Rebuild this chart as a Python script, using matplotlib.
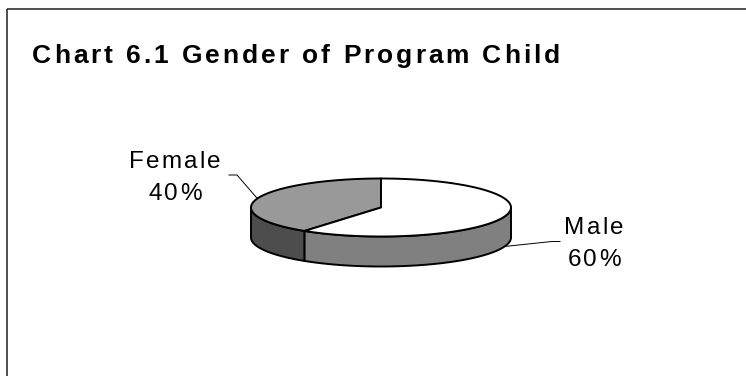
import numpy as np
import matplotlib
matplotlib.use('Agg')
import matplotlib.pyplot as plt
from matplotlib.patches import Polygon, Rectangle
from matplotlib.font_manager import FontProperties, findfont, get_font
from matplotlib.ft2font import LoadFlags

title = 'Chart 6.1 Gender of Program Child'
labels = ['Female', 'Male']
shares = [40, 60]
top_colors = ['#999999', '#ffffff']
side_colors = ['#4d4d4d', '#808080']

W, H, DPI = 746, 376, 100

fig = plt.figure(figsize=(W / DPI, H / DPI), dpi=DPI)
ax = fig.add_axes([0, 0, 1, 1])
# pixel coordinates, y running downwards
ax.set_xlim(0, W)
ax.set_ylim(H, 0)
ax.axis('off')


def spaced_text(x, y, s, size, gap=None, width=None, weight='normal', ha='left'):
	# draw a string with extra tracking between the letters
	prop = FontProperties(family='Liberation Sans', weight=weight, size=size)
	font = get_font(findfont(prop))
	font.set_size(size, DPI)
	adv = [font.load_char(ord(c), flags=LoadFlags.NO_HINTING).linearHoriAdvance / 65536 for c in s]
	if width is not None:
		gap = (width - sum(adv)) / (len(s) - 1)
	total = sum(adv) + gap * (len(s) - 1)
	if ha == 'center':
		x -= total / 2
	for c, a in zip(s, adv):
		if c != ' ':
			ax.text(x, y, c, fontproperties=prop, va='baseline', ha='left', color='black')
		x += a + gap


# chart area frame, runs off the right and bottom edges
ax.add_patch(Rectangle((6.5, 9), W, H, fill=False, ec='#1f1f1f', lw=1.1))

spaced_text(32, 63, title, 19, width=528, weight='bold')

# 3-D pie
cx, cy, rx, ry, depth = 381, 207.5, 130, 29, 30
start = 90
fracs = np.array(shares) / sum(shares)
bounds = start + 360 * np.concatenate([[0], np.cumsum(fracs)])


def rim(t0, t1, n=80):
	t = np.radians(np.linspace(t0, t1, n))
	return np.column_stack([cx + rx * np.cos(t), cy - ry * np.sin(t)])


edge = dict(ec='black', lw=1.4, joinstyle='round')

# side walls: only the front half of the rim is visible
for i in range(len(shares)):
	t0, t1 = bounds[i], bounds[i + 1]
	for k in (-1, 0, 1):
		lo, hi = max(t0, 180 + 360 * k), min(t1, 360 + 360 * k)
		if hi <= lo:
			continue
		top = rim(lo, hi)
		bot = top[::-1] + [0, depth]
		ax.add_patch(Polygon(np.vstack([top, bot]), closed=True, fc=side_colors[i], **edge))

# top faces
for i in range(len(shares)):
	pts = np.vstack([[cx, cy], rim(bounds[i], bounds[i + 1])])
	ax.add_patch(Polygon(pts, closed=True, fc=top_colors[i], **edge))

# data labels with leader lines
label_pos = [(175, 168, 237, 175, -8), (594, 234, 552, 241.5, 8)]
for i, (lx, ly, ex, ey, tail) in enumerate(label_pos):
	mid = (bounds[i] + bounds[i + 1]) / 2
	ax_, ay_ = rim(mid, mid, 1)[0]
	if np.sin(np.radians(mid)) < 0:
		ay_ += depth
	ax.plot([ax_, ex, ex + tail], [ay_, ey, ey], color='black', lw=0.7)
	spaced_text(lx, ly, labels[i], 17.5, gap=2.2, ha='center')
	spaced_text(lx, ly + 32, f'{shares[i]}%', 17.5, gap=2.2, ha='center')

fig.savefig('out.png', dpi=DPI, facecolor='white')
